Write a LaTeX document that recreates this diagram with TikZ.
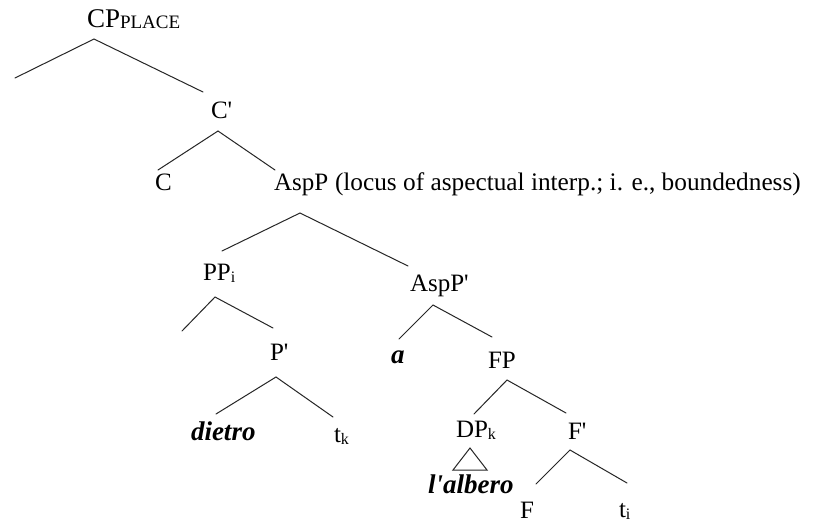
\documentclass[tikz,border=0pt]{standalone}
\usepackage{fontspec}
\setmainfont{Liberation Serif}
% small lowered index letters (PP_i, t_k ...)
\newcommand{\idx}[1]{\raisebox{-2pt}{\fontsize{16}{16}\selectfont #1}}
\newcommand{\prm}{\textquotesingle}
\begin{document}
\begin{tikzpicture}[x=1pt,y=-1pt,
  lbl/.style={anchor=base west,inner sep=0pt,outer sep=0pt,font=\fontsize{25}{29}\selectfont},
  lex/.style={lbl,font=\fontsize{27}{30}\selectfont\bfseries\itshape},
  branch/.style={draw=black!85,line width=1pt,line cap=round}]
\useasboundingbox[fill=white] (0,0) rectangle (815,523);

% category labels
\node[lbl,font=\fontsize{27}{30}\selectfont] (cp) at (87,27)
  {CP\raisebox{-1pt}{\fontsize{19}{19}\selectfont PLACE}};
\node[lbl] (cbar)   at (211,118) {C\prm};
\node[lbl] (c)      at (155,190) {C};
\node[lbl] (asp)    at (274,190) {AspP};
\node[lbl,font=\fontsize{25.3}{30}\selectfont] (note) at (335,190)
  {(locus of aspectual interp.; i. e., boundedness)};
\node[lbl] (pp)     at (203,280) {PP\idx{i}};
\node[lbl] (aspbar) at (410,291) {AspP\prm};
\node[lbl] (pbar)   at (270,360) {P\prm};
\node[lex] (a)      at (391,363) {a};
\node[lbl] (fp)     at (488,368) {FP};
\node[lex] (dietro) at (191,440) {dietro};
\node[lbl] (tk)     at (334,442) {t\idx{k}};
\node[lbl] (dp)     at (456,437) {DP\idx{k}};
\node[lbl] (fbar)   at (568,439) {F\prm};
\node[lex] (albero) at (428,493) {l\prm albero};
\node[lbl] (f)      at (520,518) {F};
\node[lbl] (ti)     at (619,517) {t\idx{i}};

% branching points and branch ends
\coordinate (cp-top) at (94,39);   \coordinate (cp-l) at (15,78);   \coordinate (cp-r) at (203,92);
\coordinate (cb-top) at (218,131); \coordinate (cb-l) at (158,170); \coordinate (cb-r) at (275,170);
\coordinate (as-top) at (300,213); \coordinate (as-l) at (222,251); \coordinate (as-r) at (408,266);
\coordinate (pp-top) at (215,297); \coordinate (pp-l) at (182,331); \coordinate (pp-r) at (273,328);
\coordinate (ab-top) at (433,305); \coordinate (ab-l) at (399,339); \coordinate (ab-r) at (492,337);
\coordinate (pb-top) at (276,377); \coordinate (pb-l) at (216,414); \coordinate (pb-r) at (333,417);
\coordinate (fp-top) at (507,380); \coordinate (fp-l) at (474,414); \coordinate (fp-r) at (566,413);
\coordinate (fb-top) at (570,450); \coordinate (fb-l) at (536,484); \coordinate (fb-r) at (627,483);
\coordinate (dp-top) at (470,448); \coordinate (dp-bl) at (453,470); \coordinate (dp-br) at (487,470);

% branches
\draw[branch] (cp-l) -- (cp-top) -- (cp-r);
\draw[branch] (cb-l) -- (cb-top) -- (cb-r);
\draw[branch] (as-l) -- (as-top) -- (as-r);
\draw[branch] (pp-l) -- (pp-top) -- (pp-r);
\draw[branch] (ab-l) -- (ab-top) -- (ab-r);
\draw[branch] (pb-l) -- (pb-top) -- (pb-r);
\draw[branch] (fp-l) -- (fp-top) -- (fp-r);
\draw[branch] (fb-l) -- (fb-top) -- (fb-r);
% roof over the DP
\draw[branch,line join=miter] (dp-top) -- (dp-br) -- (dp-bl) -- cycle;
\end{tikzpicture}
\end{document}
